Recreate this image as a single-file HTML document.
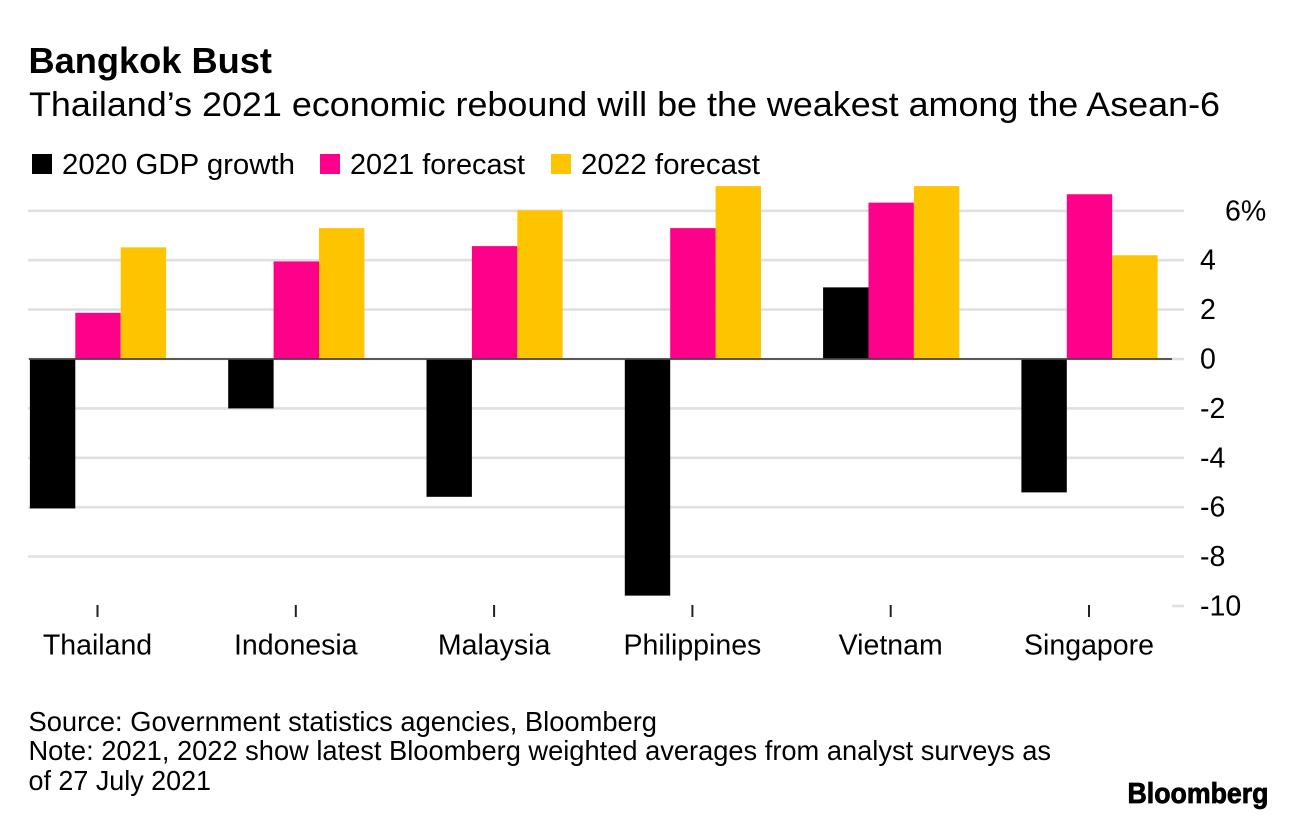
<!DOCTYPE html>
<html lang="en">
<head>
<meta charset="utf-8">
<title>Bangkok Bust</title>
<style>
  html, body { margin: 0; padding: 0; background: #fff; }
  svg { display: block; font-family: "Liberation Sans", sans-serif; fill: #000; }
</style>
</head>
<body>
<svg id="chart" xmlns="http://www.w3.org/2000/svg" width="1296" height="820" viewBox="0 0 1296 820">
  <rect width="1296" height="820" fill="#fff"/>
  <text x="28.5" y="73" font-size="36.5" font-weight="700" textLength="243.5" lengthAdjust="spacingAndGlyphs">Bangkok Bust</text>
  <text x="29" y="116" font-size="34" textLength="1191" lengthAdjust="spacingAndGlyphs">Thailand’s 2021 economic rebound will be the weakest among the Asean-6</text>
  <g id="legend"></g>
  <g id="grid"></g>
  <g id="bars"></g>
  <g id="axes"></g>
  <text x="28.5" y="731" font-size="27.5" textLength="628.5" lengthAdjust="spacingAndGlyphs">Source: Government statistics agencies, Bloomberg</text>
  <text x="28.5" y="760" font-size="27.5" textLength="1022.5" lengthAdjust="spacingAndGlyphs">Note: 2021, 2022 show latest Bloomberg weighted averages from analyst surveys as</text>
  <text x="28.5" y="790" font-size="27.5" textLength="182.5" lengthAdjust="spacingAndGlyphs">of 27 July 2021</text>
  <text x="1127.5" y="803" font-size="29" font-weight="700" stroke="#000" stroke-width="0.8" textLength="141" lengthAdjust="spacingAndGlyphs">Bloomberg</text>
</svg>
<script>
const categories = ["Thailand", "Indonesia", "Malaysia", "Philippines", "Vietnam", "Singapore"];
const gdp2020 = [-6.05, -2.0, -5.58, -9.58, 2.9, -5.4];
const forecast2021 = [1.87, 3.95, 4.57, 5.3, 6.33, 6.67];
const forecast2022 = [4.52, 5.3, 6.02, 7.0, 7.0, 4.2];
const yTicks = [6, 4, 2, 0, -2, -4, -6, -8, -10];
const yTickLabels = ["6%", "4", "2", "0", "-2", "-4", "-6", "-8", "-10"];
const seriesNames = ["2020 GDP growth", "2021 forecast", "2022 forecast"];

const NS = "http://www.w3.org/2000/svg";
const colors = ["#000000", "#ff008a", "#ffc400"];
const allSeries = [gdp2020, forecast2021, forecast2022];
const seriesKeys = ["gdp-2020", "forecast-2021", "forecast-2022"];

function y(v) { return 359 + (0 - v) * 24.7; }
function xCenter(i) { return 98 + i * 198.3; }
const barWidth = 45.4;

function make(tag, attrs, parent, text) {
  const el = document.createElementNS(NS, tag);
  for (const k in attrs) el.setAttribute(k, attrs[k]);
  if (text !== undefined) el.textContent = text;
  parent.appendChild(el);
  return el;
}

const gridG = document.getElementById("grid");
const barsG = document.getElementById("bars");
const axesG = document.getElementById("axes");
const legendG = document.getElementById("legend");

// legend
const legendSwatchX = [32, 320, 551];
const legendTextX = [62, 350, 581];
const legendTextW = [233, 175, 179];
seriesNames.forEach(function (name, i) {
  const sw = make("rect", { x: legendSwatchX[i], y: 154, width: 20, height: 20, fill: colors[i] }, legendG);
  
  
  const t = make("text", { x: legendTextX[i], y: 174, "font-size": 28.5, textLength: legendTextW[i], lengthAdjust: "spacingAndGlyphs" }, legendG, name);
  
  
});

// gridlines and y labels
yTicks.forEach(function (v, i) {
  const line = make("line", { x1: v === -10 ? 1172 : 28, x2: 1184, y1: y(v), y2: y(v), stroke: "#e0e0e0", "stroke-width": 2.6 }, gridG);
  
  
  const label = make("text", { x: v === 6 ? 1225 : 1200, y: y(v) + 9.5, "font-size": 28.5 }, axesG, yTickLabels[i]);
  
  
});

// bars
categories.forEach(function (cat, c) {
  allSeries.forEach(function (series, s) {
    const v = series[c];
    const left = xCenter(c) + (s - 1.5) * barWidth;
    const top = Math.min(y(v), y(0));
    const bar = make("rect", { x: left, y: top, width: barWidth, height: Math.abs(y(v) - y(0)), fill: colors[s] }, barsG);
    
    
    bar.setAttribute('data-series', seriesKeys[s]);
    bar.setAttribute('data-category', cat);
  });
  const tick = make("line", { x1: xCenter(c) - 0.5, x2: xCenter(c) - 0.5, y1: 605, y2: 617, stroke: "#222", "stroke-width": 2 }, axesG);
  
  
  const label = make("text", { x: xCenter(c) - 0.5, y: 654.5, "font-size": 28.5, "text-anchor": "middle" }, axesG, cat);
  
  
});

// zero line
const zero = make("line", { x1: 29, x2: 1172, y1: y(0), y2: y(0), stroke: "#444", "stroke-width": 1.8 }, axesG);


</script>
</body>
</html>
